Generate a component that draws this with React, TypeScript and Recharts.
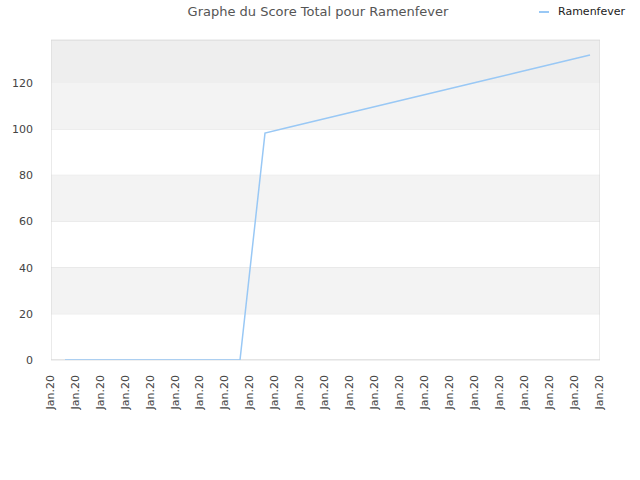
import React from "react";
import {
  LineChart, Line, XAxis, YAxis, CartesianGrid, ReferenceArea,
} from "recharts";

// one reading per day, index from the first sample
const days = [0, 1, 2, 3, 4, 5, 6, 7, 8, 9, 10, 11, 12, 13, 14, 15, 16, 17, 18, 19, 20, 21];
const scores = [0, 0, 0, 0, 0, 0, 0, 0, 98.3, 100.9, 103.5, 106.1, 108.7, 111.3, 113.9, 116.5, 119.1, 121.7, 124.3, 126.9, 129.5, 132.1];
const xTickLabels = [
  "Jan.20", "Jan.20", "Jan.20", "Jan.20", "Jan.20", "Jan.20", "Jan.20", "Jan.20",
  "Jan.20", "Jan.20", "Jan.20", "Jan.20", "Jan.20", "Jan.20", "Jan.20", "Jan.20",
  "Jan.20", "Jan.20", "Jan.20", "Jan.20", "Jan.20", "Jan.20", "Jan.20",
];
const yTicks = [0, 20, 40, 60, 80, 100, 120];

const X_MIN = -0.56;
const X_MAX = 21.4;
const Y_MAX = 138.6;

const data = days.map((d, i) => ({ day: d, score: scores[i] }));
const xStep = (X_MAX - X_MIN) / (xTickLabels.length - 1);
const xTicks = xTickLabels.map((_, i) => X_MIN + i * xStep);

const font = "'DejaVu Sans', Verdana, sans-serif";
const lineColor = "#99c8f5";

function RotatedTick({ x, y, index }: any) {
  return (
    <g transform={`translate(${x},${y})`}>
      <text
        transform="rotate(-90)"
        x={-7}
        y={0}
        dy="0.25em"
        textAnchor="end"
        fontSize={11}
        fontFamily={font}
        fill="#444"
      >
        {xTickLabels[index]}
      </text>
    </g>
  );
}

export default function App() {
  return (
    <div style={{ position: "absolute", left: 0, top: 0, width: 640, height: 480, background: "#fff", fontFamily: font }}>
      <div style={{ position: "absolute", top: 4, left: 0, width: 636, textAlign: "center", fontSize: 13, color: "#555" }}>
        Graphe du Score Total pour Ramenfever
      </div>
      <div style={{ position: "absolute", top: 5, left: 539, display: "flex", alignItems: "center", fontSize: 11, color: "#222" }}>
        <span style={{ width: 10, height: 2, background: lineColor, marginRight: 9 }} />
        Ramenfever
      </div>
      <LineChart width={640} height={480} data={data} margin={{ top: 40, right: 40, bottom: 80, left: 0 }}>
        <ReferenceArea y1={20} y2={40} fill="#f3f3f3" fillOpacity={1} stroke="none" ifOverflow="hidden" />
        <ReferenceArea y1={60} y2={80} fill="#f3f3f3" fillOpacity={1} stroke="none" ifOverflow="hidden" />
        <ReferenceArea y1={100} y2={120} fill="#f3f3f3" fillOpacity={1} stroke="none" ifOverflow="hidden" />
        <ReferenceArea y1={120} y2={Y_MAX} fill="#eeeeee" fillOpacity={1} stroke="none" ifOverflow="hidden" />
        <CartesianGrid vertical={false} stroke="#e2e2e2" />
        <ReferenceArea x1={X_MIN} x2={X_MAX} y1={0} y2={Y_MAX} fill="none" stroke="#d6d6d6" strokeWidth={1} ifOverflow="hidden" />
        <XAxis
          dataKey="day"
          type="number"
          domain={[X_MIN, X_MAX]}
          ticks={xTicks}
          interval={0}
          allowDataOverflow
          height={40}
          axisLine={false}
          tickLine={false}
          tick={<RotatedTick />}
        />
        <YAxis
          type="number"
          domain={[0, Y_MAX]}
          ticks={yTicks}
          allowDataOverflow
          width={51}
          axisLine={false}
          tickLine={false}
          tickSize={0}
          tickMargin={18}
          tick={{ fontSize: 11, fill: "#444", fontFamily: font }}
        />
        <Line
          type="linear"
          dataKey="score"
          stroke={lineColor}
          strokeWidth={1.5}
          dot={false}
          isAnimationActive={false}
        />
      </LineChart>
    </div>
  );
}
